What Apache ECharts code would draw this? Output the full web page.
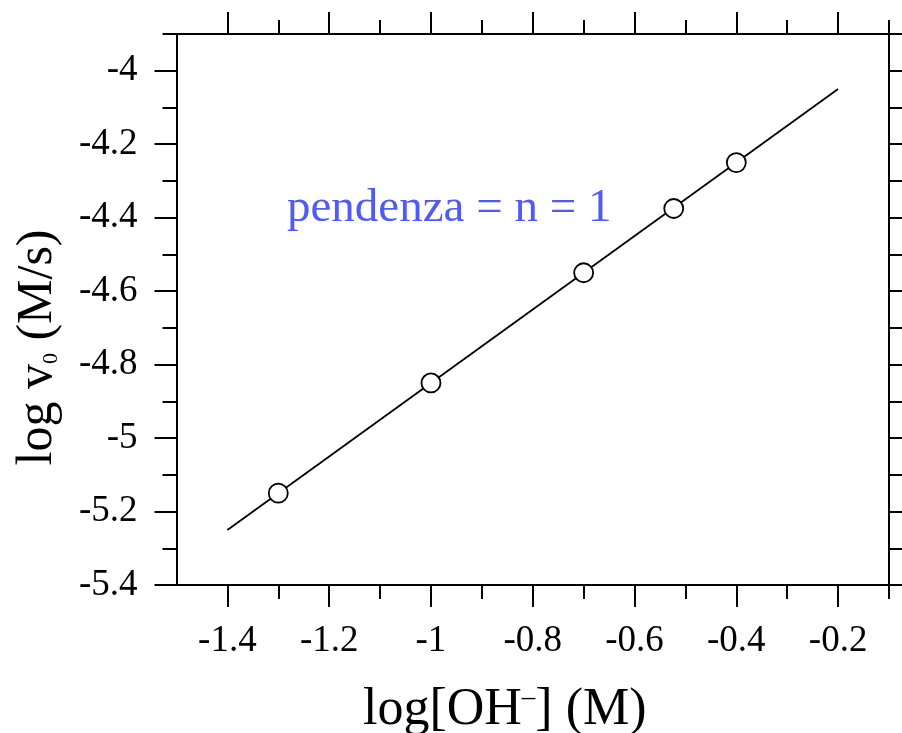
<!DOCTYPE html>
<html><head><meta charset="utf-8">
<script src="https://cdn.jsdelivr.net/npm/echarts@6/dist/echarts.min.js"></script>
<style>html,body{margin:0;padding:0;background:#fff}#c{width:902px;height:733px}</style>
</head><body><div id="c"></div>
<script>
// data
const xData = [-1.3, -1, -0.7, -0.523, -0.4];
const yData = [-5.15, -4.85, -4.55, -4.375, -4.25];
const fitX = [-1.4, -0.2];
const fitY = [-5.25, -4.05];
const xMajorTicks = [-1.4, -1.2, -1, -0.8, -0.6, -0.4, -0.2];
const xMinorTicks = [-1.3, -1.1, -0.9, -0.7, -0.5, -0.3, -0.1];
const yMajorTicks = [-5.4, -5.2, -5, -4.8, -4.6, -4.4, -4.2, -4];
const yMinorTicks = [-5.3, -5.1, -4.9, -4.7, -4.5, -4.3, -4.1, -3.9];
const xRange = [-1.5, -0.1];
const yRange = [-5.4, -3.9];
const xTitle = '{a|log[OH}{s|–}{a|] (M)}';
const yTitle = '{a|log v}{s|0}{a| (M/s)}';
const note = 'pendenza = n = 1';

const FONT = 'Liberation Serif, Times New Roman, serif';
const gridRect = {left: 176.5, right: 13, top: 34, bottom: 148, containLabel: false, outerBoundsMode: 'none'};

function axis(kind, grid, pos, ticks, len, showLine, labels) {
  const isX = kind === 'x';
  const r = isX ? xRange : yRange;
  return {
    type: 'value', gridIndex: grid, position: pos,
    min: r[0], max: r[1],
    axisLine: {show: showLine, lineStyle: {color: '#000', width: 2}},
    axisTick: {show: true, inside: false, length: len, customValues: ticks,
               lineStyle: {color: '#000', width: 2}},
    axisLabel: labels ? {show: true, customValues: ticks, margin: isX ? 38 : 39,
               color: '#000', fontFamily: FONT, fontSize: 37,
               formatter: v => String(Math.round(v * 10) / 10)} : {show: false},
    splitLine: {show: false}
  };
}

const xAxes = [
  axis('x', 0, 'bottom', xMajorTicks, 22, true, true),
  axis('x', 0, 'top', xMajorTicks, 22, true, false),
  axis('x', 1, 'bottom', xMinorTicks, 14, false, false),
  axis('x', 1, 'top', xMinorTicks, 14, false, false)
];
const yAxes = [
  axis('y', 0, 'left', yMajorTicks, 22, true, true),
  axis('y', 0, 'right', yMajorTicks, 22, true, false),
  axis('y', 1, 'left', yMinorTicks, 14, false, false),
  axis('y', 1, 'right', yMinorTicks, 14, false, false)
];
Object.assign(xAxes[0], {
  name: xTitle, nameLocation: 'middle', nameGap: 99,
  nameTextStyle: {padding: [0, 56, 0, 0], rich: {
    a: {fontFamily: FONT, fontSize: 52, color: '#000'},
    s: {fontFamily: FONT, fontSize: 27, color: '#000', verticalAlign: 'top'}
  }}
});
Object.assign(yAxes[0], {
  name: yTitle, nameLocation: 'middle', nameGap: 114, nameRotate: 90,
  nameTextStyle: {padding: [0, 76, 0, 0], rich: {
    a: {fontFamily: FONT, fontSize: 50, color: '#000'},
    s: {fontFamily: FONT, fontSize: 22, color: '#000', verticalAlign: 'bottom'}
  }}
});

const chart = echarts.init(document.getElementById('c'), null, {renderer: 'canvas'});
chart.setOption({
  animation: false,
  backgroundColor: '#fff',
  grid: [Object.assign({}, gridRect), Object.assign({}, gridRect)],
  xAxis: xAxes,
  yAxis: yAxes,
  graphic: [{
    type: 'text', left: 287, top: 185, z: 10,
    style: {text: note, fontFamily: FONT, fontSize: 47, fill: '#4f5af7'}
  }],
  series: [
    {type: 'line', xAxisIndex: 0, yAxisIndex: 0, showSymbol: false, symbol: 'none',
     lineStyle: {color: '#000', width: 1.8}, z: 2,
     data: fitX.map((x, i) => [x, fitY[i]])},
    {type: 'scatter', xAxisIndex: 0, yAxisIndex: 0, symbol: 'circle', symbolSize: 19,
     itemStyle: {color: '#fff', borderColor: '#000', borderWidth: 1.8, opacity: 1}, z: 3,
     data: xData.map((x, i) => [x, yData[i]])}
  ]
});
</script></body></html>
